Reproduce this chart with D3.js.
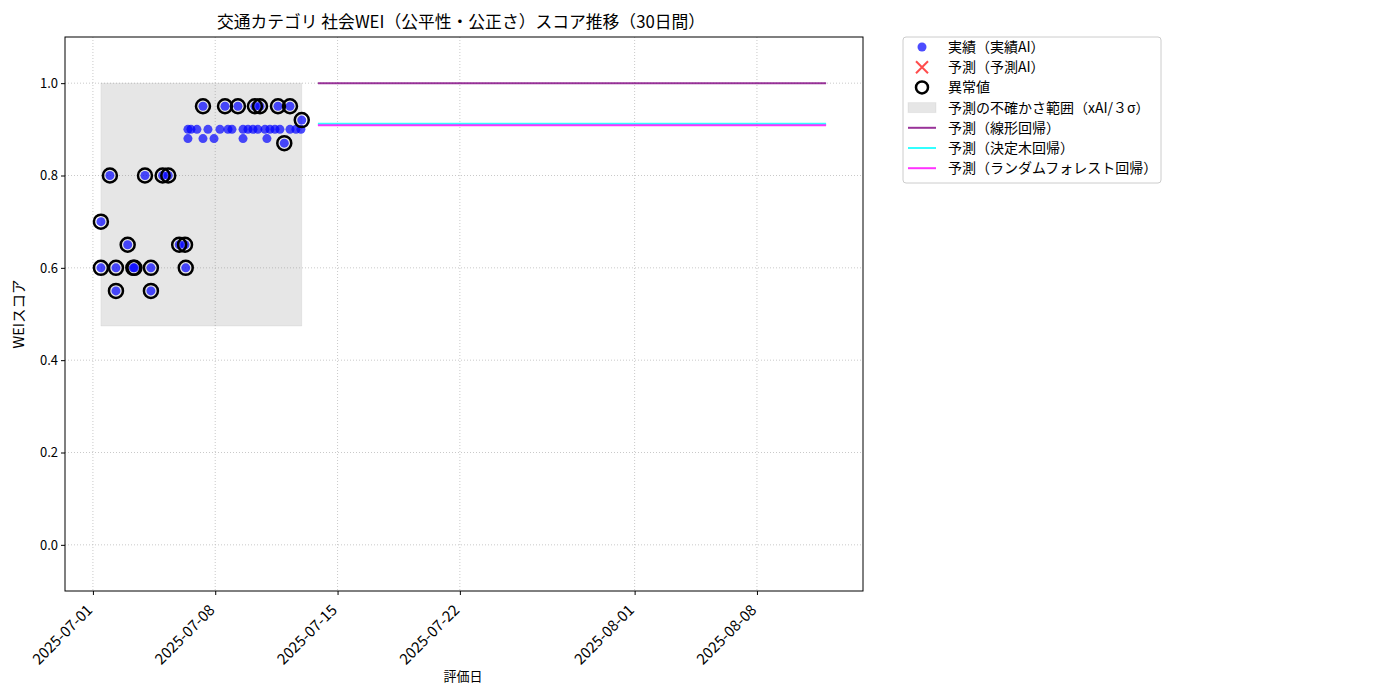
<!DOCTYPE html>
<html>
<head>
<meta charset="utf-8">
<script src="https://cdn.jsdelivr.net/npm/d3@7"></script>
<style>
  body { margin: 0; background: #fff; }
  svg text { font-family: "Noto Sans CJK JP", "Noto Sans", sans-serif; }
</style>
</head>
<body>
<div id="chart"></div>
<script>
// actual scores (実績AI)
var actualDates = [
  "2025-07-01T11:00", "2025-07-01T11:00", "2025-07-01T23:20", "2025-07-02T07:40", "2025-07-02T07:40",
  "2025-07-02T23:45", "2025-07-03T07:30", "2025-07-03T09:00", "2025-07-03T23:30", "2025-07-04T07:40",
  "2025-07-04T07:40", "2025-07-04T23:45", "2025-07-05T07:30", "2025-07-05T22:30", "2025-07-06T06:30",
  "2025-07-06T07:30", "2025-07-06T10:30", "2025-07-06T10:30", "2025-07-06T14:40", "2025-07-06T22:50",
  "2025-07-07T07:10", "2025-07-07T07:10", "2025-07-07T14:00", "2025-07-07T22:20", "2025-07-08T06:30",
  "2025-07-08T13:25", "2025-07-08T17:30", "2025-07-08T23:00", "2025-07-09T07:10", "2025-07-09T14:10",
  "2025-07-09T14:10", "2025-07-09T21:00", "2025-07-10T03:50", "2025-07-10T06:30", "2025-07-10T10:30",
  "2025-07-10T13:30", "2025-07-10T20:20", "2025-07-10T23:00", "2025-07-11T03:10", "2025-07-11T10:00",
  "2025-07-11T14:10", "2025-07-11T16:50", "2025-07-11T22:50", "2025-07-12T06:40", "2025-07-12T06:40",
  "2025-07-12T14:50", "2025-07-12T21:40", "2025-07-12T22:50"
];
var actualScores = [
  0.70, 0.60, 0.80, 0.60, 0.55,
  0.65, 0.60, 0.60, 0.80, 0.60,
  0.55, 0.80, 0.80, 0.65, 0.65,
  0.60, 0.90, 0.88, 0.90, 0.90,
  0.95, 0.88, 0.90, 0.88, 0.90,
  0.95, 0.90, 0.90, 0.95, 0.90,
  0.88, 0.90, 0.90, 0.95, 0.90,
  0.95, 0.90, 0.88, 0.90, 0.90,
  0.95, 0.90, 0.87, 0.95, 0.90,
  0.90, 0.90, 0.92
];

// anomalies (異常値)
var outlierDates = [
  "2025-07-01T11:00", "2025-07-01T11:00", "2025-07-01T23:20", "2025-07-02T07:40", "2025-07-02T07:40",
  "2025-07-02T23:45", "2025-07-03T07:30", "2025-07-03T09:00", "2025-07-03T23:30", "2025-07-04T07:40",
  "2025-07-04T07:40", "2025-07-04T23:45", "2025-07-05T07:30", "2025-07-05T22:30", "2025-07-06T06:30",
  "2025-07-06T07:30", "2025-07-07T07:10", "2025-07-08T13:25", "2025-07-09T07:10", "2025-07-10T06:30",
  "2025-07-10T13:30", "2025-07-11T14:10", "2025-07-11T22:50", "2025-07-12T06:40", "2025-07-12T22:50"
];
var outlierScores = [
  0.70, 0.60, 0.80, 0.60, 0.55,
  0.65, 0.60, 0.60, 0.80, 0.60,
  0.55, 0.80, 0.80, 0.65, 0.65,
  0.60, 0.95, 0.95, 0.95, 0.95,
  0.95, 0.95, 0.87, 0.95, 0.92
];

// uncertainty band (xAI / 3 sigma)
var bandDates = ["2025-07-01T11:00", "2025-07-12T22:50"];
var bandLow = [0.474, 0.474];
var bandHigh = [1.0, 1.0];

// predictions
var predDates = ["2025-07-13T21:00", "2025-08-11T23:00"];
var predLinear = [1.0, 1.0];
var predTree = [0.912, 0.912];
var predForest = [0.909, 0.909];

var xTicks = ["2025-07-01", "2025-07-08", "2025-07-15", "2025-07-22", "2025-08-01", "2025-08-08"];
var yTicks = [0.0, 0.2, 0.4, 0.6, 0.8, 1.0];

var legendLabels = [
  "実績（実績AI）", "予測（予測AI）", "異常値", "予測の不確かさ範囲（xAI/３σ）",
  "予測（線形回帰）", "予測（決定木回帰）", "予測（ランダムフォレスト回帰）"
];

var parse = d3.utcParse("%Y-%m-%dT%H:%M");
var parseDay = d3.utcParse("%Y-%m-%d");

var width = 1400, height = 700;
var margin = {top: 37, right: 537, bottom: 109, left: 65};
var w = width - margin.left - margin.right,
    h = height - margin.top - margin.bottom;

var svg = d3.select('#chart').append('svg')
  .attr('width', width)
  .attr('height', height);

var x = d3.scaleUtc()
  .domain([parse("2025-06-29T09:40"), parse("2025-08-14T01:40")])
  .range([0, w]);
var y = d3.scaleLinear().domain([-0.1, 1.1]).range([h, 0]);

var g = svg.append('g')
  .attr('transform', 'translate(' + margin.left + ',' + margin.top + ')');

// grid
g.append('g').selectAll('line')
  .data(xTicks).enter().append('line')
  .attr('x1', function(d) { return x(parseDay(d)); })
  .attr('x2', function(d) { return x(parseDay(d)); })
  .attr('y1', 0).attr('y2', h)
  .attr('stroke', '#bbb').attr('stroke-width', 0.8).attr('stroke-dasharray', '1,2');
g.append('g').selectAll('line')
  .data(yTicks).enter().append('line')
  .attr('x1', 0).attr('x2', w)
  .attr('y1', function(d) { return y(d); })
  .attr('y2', function(d) { return y(d); })
  .attr('stroke', '#bbb').attr('stroke-width', 0.8).attr('stroke-dasharray', '1,2');

// band
var band = bandDates.map(function(d, i) { return {t: parse(d), lo: bandLow[i], hi: bandHigh[i]}; });
g.append('path')
  .datum(band)
  .attr('d', d3.area()
    .x(function(d) { return x(d.t); })
    .y0(function(d) { return y(d.lo); })
    .y1(function(d) { return y(d.hi); }))
  .attr('fill', 'gray').attr('fill-opacity', 0.2)
  .attr('stroke', 'gray').attr('stroke-opacity', 0.1);

// prediction lines
var line = d3.line()
  .x(function(d) { return x(d.t); })
  .y(function(d) { return y(d.v); });
var predSeries = [
  {vals: predLinear, color: 'purple'},
  {vals: predTree, color: 'cyan'},
  {vals: predForest, color: 'magenta'}
];
predSeries.forEach(function(s) {
  g.append('path')
    .datum(predDates.map(function(d, i) { return {t: parse(d), v: s.vals[i]}; }))
    .attr('d', line)
    .attr('fill', 'none')
    .attr('stroke', s.color)
    .attr('stroke-opacity', 0.8)
    .attr('stroke-width', 2);
});

// actual points
g.append('g').selectAll('circle')
  .data(actualDates.map(function(d, i) { return {t: parse(d), v: actualScores[i]}; }))
  .enter().append('circle')
  .attr('cx', function(d) { return x(d.t); })
  .attr('cy', function(d) { return y(d.v); })
  .attr('r', 4.5)
  .attr('fill', 'blue').attr('fill-opacity', 0.7);

// outliers
g.append('g').selectAll('circle')
  .data(outlierDates.map(function(d, i) { return {t: parse(d), v: outlierScores[i]}; }))
  .enter().append('circle')
  .attr('cx', function(d) { return x(d.t); })
  .attr('cy', function(d) { return y(d.v); })
  .attr('r', 7)
  .attr('fill', 'none')
  .attr('stroke', 'black').attr('stroke-width', 2.5);

// axes
var xAxis = g.append('g')
  .attr('transform', 'translate(0,' + h + ')')
  .call(d3.axisBottom(x).tickValues(xTicks.map(parseDay)).tickSize(4).tickFormat(d3.utcFormat('%Y-%m-%d')));
xAxis.select('.domain').remove();
xAxis.selectAll('text')
  .attr('font-size', 15)
  .attr('text-anchor', 'end')
  .attr('x', 0).attr('y', 0).attr('dy', 0)
  .attr('transform', 'translate(0,20) rotate(-45)');

var yAxis = g.append('g')
  .call(d3.axisLeft(y).tickValues(yTicks).tickSize(4).tickFormat(d3.format('.1f')));
yAxis.select('.domain').remove();
yAxis.selectAll('text').attr('font-size', 13);

g.append('rect')
  .attr('width', w).attr('height', h)
  .attr('fill', 'none').attr('stroke', 'black').attr('stroke-width', 1);

// labels
svg.append('text')
  .attr('x', margin.left + w / 2 - 3).attr('y', 28)
  .attr('text-anchor', 'middle').attr('font-size', 16.8)
  .text('交通カテゴリ 社会WEI（公平性・公正さ）スコア推移（30日間）');
svg.append('text')
  .attr('x', margin.left + w / 2 - 1).attr('y', 681)
  .attr('text-anchor', 'middle').attr('font-size', 13)
  .text('評価日');
svg.append('text')
  .attr('transform', 'translate(24,' + (margin.top + h / 2) + ') rotate(-90)')
  .attr('text-anchor', 'middle').attr('font-size', 14.5)
  .text('WEIスコア');

// legend
var lg = svg.append('g').attr('transform', 'translate(903,37)');
lg.append('rect')
  .attr('width', 258).attr('height', 146).attr('rx', 3)
  .attr('fill', 'white').attr('stroke', '#ccc');
var rowY = function(i) { return 10 + i * 20.2; };
lg.append('circle').attr('cx', 19).attr('cy', rowY(0)).attr('r', 4.5)
  .attr('fill', 'blue').attr('fill-opacity', 0.7);
lg.append('path')
  .attr('d', 'M13,' + (rowY(1) - 6) + 'L25,' + (rowY(1) + 6) + 'M13,' + (rowY(1) + 6) + 'L25,' + (rowY(1) - 6))
  .attr('stroke', 'red').attr('stroke-opacity', 0.7).attr('stroke-width', 2);
lg.append('circle').attr('cx', 19).attr('cy', rowY(2)).attr('r', 6)
  .attr('fill', 'none').attr('stroke', 'black').attr('stroke-width', 2.5);
lg.append('rect').attr('x', 5).attr('y', rowY(3) - 5).attr('width', 28).attr('height', 10)
  .attr('fill', 'gray').attr('fill-opacity', 0.2).attr('stroke', 'gray').attr('stroke-opacity', 0.1);
predSeries.forEach(function(s, i) {
  lg.append('line')
    .attr('x1', 5).attr('x2', 33)
    .attr('y1', rowY(4 + i)).attr('y2', rowY(4 + i))
    .attr('stroke', s.color).attr('stroke-opacity', 0.8).attr('stroke-width', 2);
});
lg.selectAll('text.lbl')
  .data(legendLabels).enter().append('text')
  .attr('class', 'lbl')
  .attr('x', 45)
  .attr('y', function(d, i) { return rowY(i); })
  .attr('dy', '0.35em')
  .attr('font-size', 14)
  .text(function(d) { return d; });
</script>
</body>
</html>
